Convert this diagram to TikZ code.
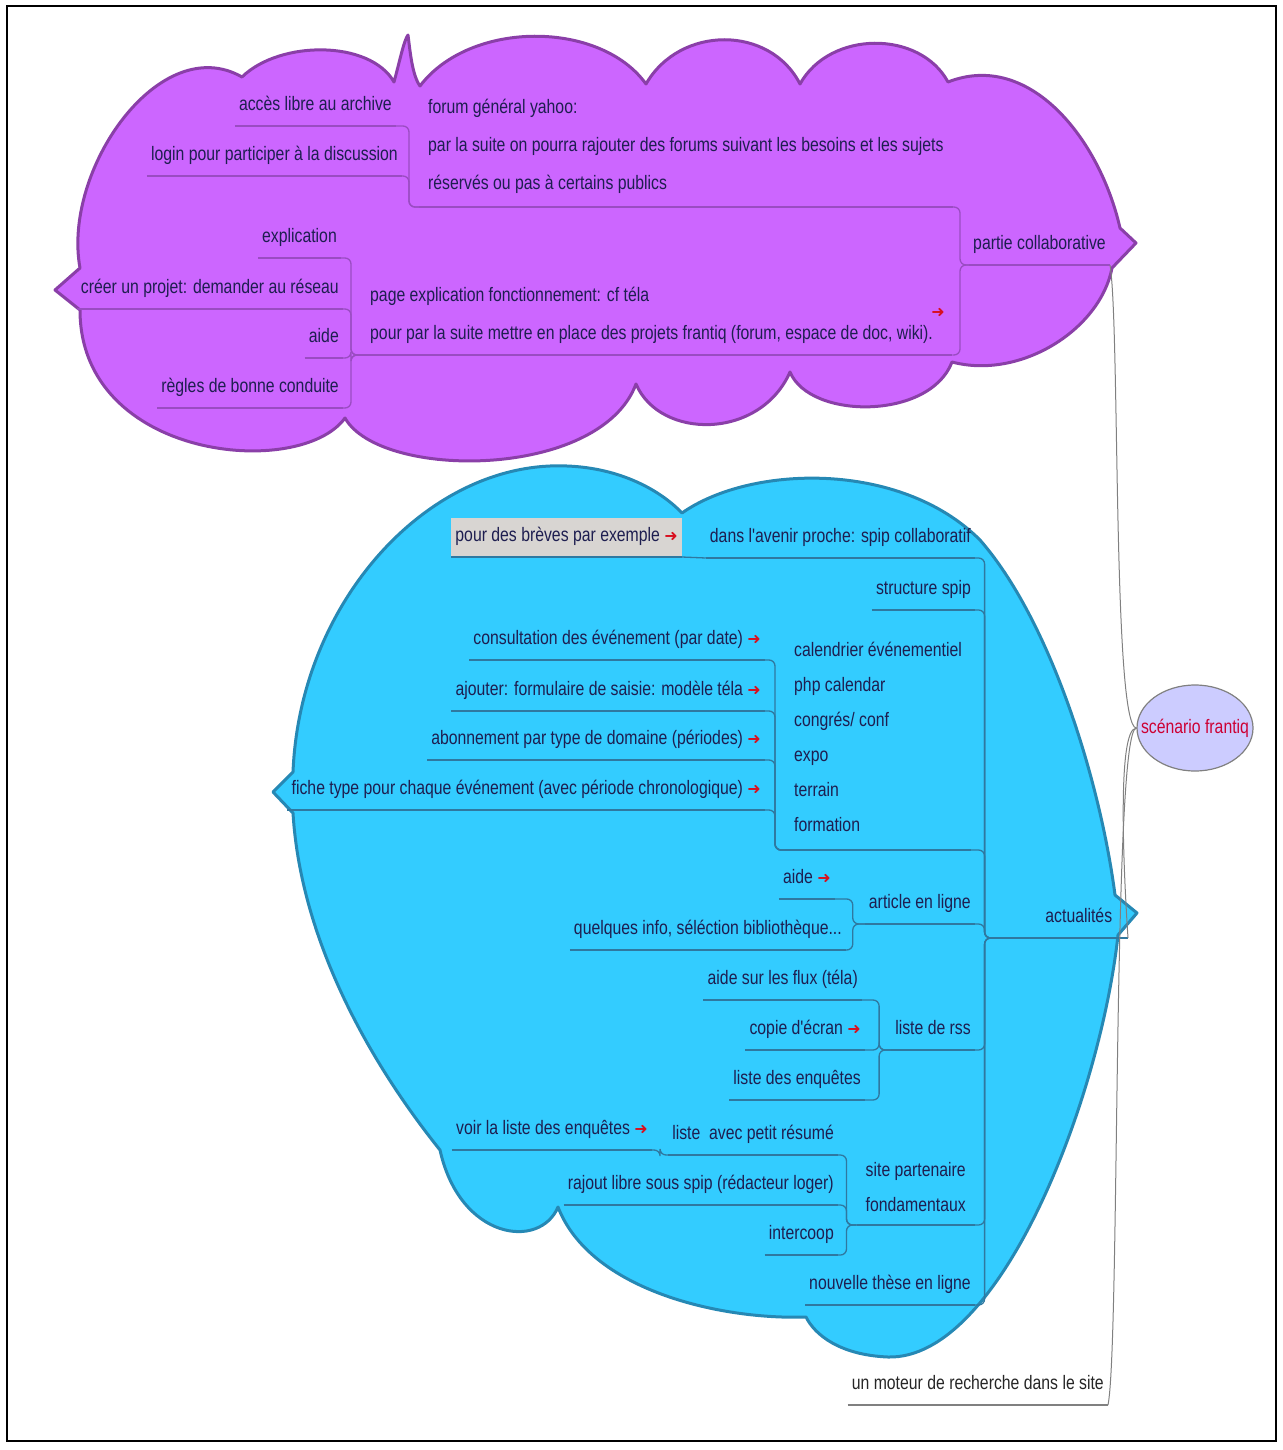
\documentclass[tikz,border=0pt]{standalone}
\usepackage{fontspec}
\newfontfamily\mmfont[FakeStretch=0.81]{Liberation Sans}
\newfontfamily\arrowfont{DejaVu Sans Bold}
\usetikzlibrary{shapes.geometric}
\definecolor{cloudlilac}{HTML}{CC66FF}
\definecolor{lilacedge}{HTML}{8A3FA8}
\definecolor{lilacline}{HTML}{9A4CC2}
\definecolor{cloudblue}{HTML}{33CCFF}
\definecolor{blueedge}{HTML}{2688B4}
\definecolor{blueline}{HTML}{2F78A0}
\definecolor{rootfill}{HTML}{CCCCFF}
\definecolor{rootred}{HTML}{CC0033}
\definecolor{ink}{HTML}{1E1E50}
\definecolor{goarrow}{HTML}{D81020}
\definecolor{boxgray}{HTML}{D8D5D2}

\newcommand\mm{\mmfont\fontsize{19.5}{38}\selectfont}
\newcommand\mmtight{\mmfont\fontsize{19.5}{35}\selectfont}
\newcommand\redgo{{\arrowfont\fontsize{16}{16}\selectfont\textcolor{goarrow}{➜}}}
\newcommand\branchto[3][10]{\draw[branch] (#2.south east) -| ([xshift=-#1pt]#3.south west) -- (#3.south west);}

\begin{document}
\begin{tikzpicture}[x=1pt,y=-1pt,
  topic/.style={font=\mm, text=ink, inner xsep=4pt, inner ysep=10pt, text height=14pt, text depth=5pt, anchor=south east},
  block/.style={font=\mm, text=ink, align=left, inner xsep=9pt, inner ysep=13pt, anchor=south west},
  branch/.style={line width=1.3pt, rounded corners=6pt},
  cloud/.style={line width=3pt, line join=round}]

\useasboundingbox (0,0) rectangle (1282,1450);

% purple cloud
\draw[cloud, draw=lilacedge, fill=cloudlilac] (55,290) -- (80,268)
  .. controls (62,170) and (160,30) .. (242,77)
  .. controls (280,40) and (370,40) .. (394,82)
  .. controls (400,60) and (404,40) .. (408,35)
  .. controls (410,50) and (412,75) .. (420,86)
  .. controls (470,20) and (600,20) .. (646,84)
  .. controls (680,25) and (770,25) .. (800,84)
  .. controls (830,30) and (920,30) .. (948,82)
  .. controls (1030,50) and (1100,140) .. (1120,228)
  -- (1136,243) -- (1112,268)
  .. controls (1100,330) and (1020,380) .. (952,362)
  .. controls (930,420) and (810,420) .. (790,372)
  .. controls (760,440) and (660,440) .. (636,384)
  .. controls (600,480) and (380,480) .. (345,418)
  .. controls (300,480) and (80,460) .. (80,310)
  -- cycle;

% blue cloud
\draw[cloud, draw=blueedge, fill=cloudblue] (273,792) -- (293,772)
  .. controls (300,600) and (430,460) .. (567,466)
  .. controls (620,468) and (660,490) .. (682,513)
  .. controls (750,465) and (900,460) .. (980,540)
  .. controls (1050,620) and (1100,780) .. (1115,895)
  -- (1137,913) -- (1118,935)
  .. controls (1100,1100) and (1000,1360) .. (888,1357)
  .. controls (840,1355) and (815,1335) .. (806,1317)
  .. controls (720,1320) and (590,1290) .. (558,1207)
  .. controls (540,1250) and (460,1240) .. (440,1150)
  .. controls (360,1050) and (300,930) .. (293,813)
  -- cycle;

\draw[line width=2pt] (7,6) rectangle (1276,1441);

% partie collaborative
\begin{scope}[color=lilacline]
  \node[topic] (acces) at (396,126) {accès libre au archive};
  \node[topic] (login) at (402,176) {login pour participer à la discussion};
  \node[block] (forum) at (419,207)
    {forum général yahoo:\\par la suite on pourra rajouter des forums suivant les besoins et les sujets\\réservés ou pas à certains publics};
  \node[topic] (expl) at (341,258) {explication};
  \node[topic] (creer) at (343,309) {créer un projet: demander au réseau};
  \node[topic] (aidep) at (343,358) {aide};
  \node[topic] (regles) at (343,408) {règles de bonne conduite};
  \node[block, inner ysep=11pt] (pagex) at (361,355)
    {page explication fonctionnement: cf téla\\\makebox[573pt][l]{pour par la suite mettre en place des projets frantiq (forum, espace de doc, wiki).}};
  \node (pagego) at (938,313) {\redgo};
  \node[topic] (partie) at (1110,265) {partie collaborative};
  \foreach \n in {acces,login,forum,expl,creer,aidep,regles,pagex,partie}
    \draw[branch] (\n.south west) -- (\n.south east);
  \branchto{acces}{forum}
  \branchto{login}{forum}
  \foreach \c in {expl,creer,aidep,regles}
    {\branchto{\c}{pagex}}
  \branchto[9]{forum}{partie}
  \branchto[9]{pagex}{partie}
\end{scope}

% actualites
\begin{scope}[color=blueline]
  \node[topic, fill=boxgray] (breves) at (682,557) {pour des brèves par exemple \redgo};
  \node[topic] (avenir) at (975,558) {dans l'avenir proche: spip collaboratif};
  \node[topic] (struct) at (975,610) {structure spip};
  \node[block, font=\mmtight, inner xsep=9pt, inner ysep=18pt] (cal) at (785,850)
    {calendrier événementiel\\php calendar\\congrés/ conf\\expo\\terrain\\formation};
  \node[topic] (consult) at (765,660) {consultation des événement (par date) \redgo};
  \node[topic] (ajouter) at (765,711) {ajouter: formulaire de saisie: modèle téla \redgo};
  \node[topic] (abonn) at (765,760) {abonnement par type de domaine (périodes) \redgo};
  \node[topic] (fiche) at (765,810) {fiche type pour chaque événement (avec période chronologique) \redgo};
  \node[topic] (aidea) at (835,899) {aide \redgo};
  \node[topic] (quelq) at (846,950) {quelques info, séléction bibliothèque...};
  \node[topic] (article) at (975,924) {article en ligne};
  \node[topic] (flux) at (862,1000) {aide sur les flux (téla)};
  \node[topic] (copie) at (865,1050) {copie d'écran \redgo};
  \node[topic] (enq) at (865,1100) {liste des enquêtes};
  \node[topic] (rss) at (975,1050) {liste de rss};
  \node[topic] (voir) at (652,1150) {voir la liste des enquêtes \redgo};
  \node[topic] (resume) at (838,1155) {liste\ \ avec petit résumé};
  \node[topic] (rajout) at (838,1205) {rajout libre sous spip (rédacteur loger)};
  \node[topic] (inter) at (838,1255) {intercoop};
  \node[block, font=\mmtight, anchor=south east] (site) at (975,1225) {site partenaire\\fondamentaux};
  \node[topic] (these) at (975,1305) {nouvelle thèse en ligne};
  \node[topic, minimum width=98pt] (actu) at (1128,938) {actualités};
  \foreach \n in {breves,avenir,struct,cal,consult,ajouter,abonn,fiche,aidea,quelq,article,flux,copie,enq,rss,voir,resume,rajout,inter,site,these,actu}
    \draw[branch] (\n.south west) -- (\n.south east);
  \draw[branch] (breves.south east) -- (avenir.south west);
  \foreach \c in {consult,ajouter,abonn,fiche}
    {\branchto{\c}{cal}}
  \branchto[12]{aidea}{article}
  \branchto[12]{quelq}{article}
  \foreach \c in {flux,copie,enq}
    {\branchto[12]{\c}{rss}}
  \branchto[8]{voir}{resume}
  \foreach \c in {resume,rajout,inter}
    {\branchto{\c}{site}}
  \foreach \c in {avenir,struct,cal,article,rss,site,these}
    {\branchto[45]{\c}{actu}}
\end{scope}

% root
\begin{scope}[color=gray]
  \node[ellipse, draw=gray, line width=1.2pt, fill=rootfill, minimum width=116pt, minimum height=86pt,
    inner xsep=-20pt, inner ysep=0pt, font=\mm, text=rootred] (root) at (1195,728) {scénario frantiq};
  \node[topic, text=black!85] (moteur) at (1108,1405) {un moteur de recherche dans le site};
  \draw[branch] (moteur.south west) -- (moteur.south east);
  \draw[line width=1pt] (root.west) .. controls +(-24,0) and +(10,60) .. (partie.south east);
  \draw[line width=1pt] (root.west) .. controls +(-20,0) and +(-4,-60) .. (actu.south east);
  \draw[line width=1pt] (root.west) .. controls +(-24,0) and +(12,-60) .. (moteur.south east);
\end{scope}
\end{tikzpicture}
\end{document}
